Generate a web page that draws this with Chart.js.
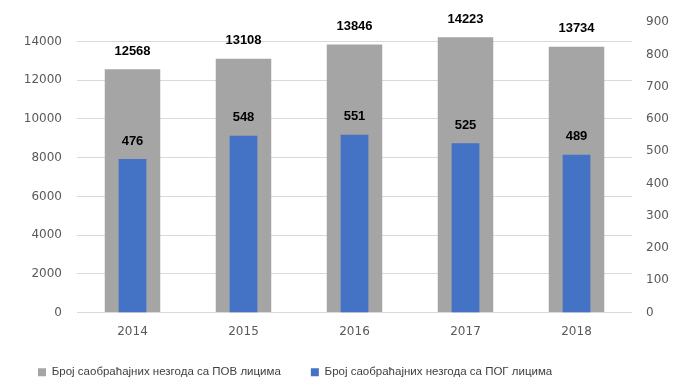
<!DOCTYPE html>
<html>
<head>
<meta charset="utf-8">
<script src="https://cdn.jsdelivr.net/npm/chart.js@4"></script>
<style>
  body { margin: 0; background: #fff; }
  #wrap { width: 690px; height: 391px; }
</style>
</head>
<body>
<div id="wrap"><canvas id="myChart"></canvas></div>
<script>
const years = ['2014', '2015', '2016', '2017', '2018'];
const povData = [12568, 13108, 13846, 14223, 13734];
const pogData = [476, 548, 551, 525, 489];
const povLabel = 'Број саобраћајних незгода са ПОВ лицима';
const pogLabel = 'Број саобраћајних незгода са ПОГ лицима';
const leftTicks = [0, 2000, 4000, 6000, 8000, 10000, 12000, 14000];
const rightTicks = [0, 100, 200, 300, 400, 500, 600, 700, 800, 900];

// labels above each bar
const valueLabels = {
    id: 'valueLabels',
    afterDatasetsDraw(chart) {
        const ctx = chart.ctx;
        ctx.save();
        ctx.font = 'bold 13px "Liberation Sans"';
        ctx.fillStyle = '#000';
        ctx.textAlign = 'center';
        ctx.textBaseline = 'middle';
        chart.data.datasets.forEach(function (ds, i) {
            const meta = chart.getDatasetMeta(i);
            meta.data.forEach(function (bar, j) {
                ctx.fillText(ds.data[j], bar.x, bar.y - 18);
            });
        });
        ctx.restore();
    }
};

const tickFont = { size: 12, family: 'DejaVu Sans' };

const ctx = document.getElementById('myChart');
new Chart(ctx, {
    type: 'bar',
    data: {
        labels: years,
        datasets: [{
            label: povLabel,
            data: povData,
            backgroundColor: '#a5a5a5',
            borderWidth: 0,
            yAxisID: 'y',
            barPercentage: 0.5,
            categoryPercentage: 1,
            grouped: false,
            order: 1
        }, {
            label: pogLabel,
            data: pogData,
            backgroundColor: '#4472c4',
            borderWidth: 0,
            yAxisID: 'y1',
            barPercentage: 0.25,
            categoryPercentage: 1,
            grouped: false,
            order: 0
        }]
    },
    options: {
        responsive: true,
        maintainAspectRatio: false,
        animation: false,
        layout: { padding: { top: 19, left: 8, right: 0, bottom: 3 } },
        plugins: {
            tooltip: { enabled: false },
            legend: {
                position: 'bottom',
                align: 'start',
                reverse: true,
                labels: {
                    boxWidth: 8, boxHeight: 8, padding: 30,
                    color: '#404040',
                    font: { size: 11.5, family: 'Liberation Sans' }
                }
            }
        },
        scales: {
            x: {
                grid: { display: false, drawTicks: false },
                border: { display: false },
                ticks: { padding: 12, color: '#595959', font: tickFont },
                afterFit: function (s) { s.height = 24; }
            },
            y: {
                position: 'left',
                min: 0, max: 15000,
                grid: { color: '#d9d9d9', drawTicks: false },
                border: { display: false },
                ticks: { padding: 15, color: '#595959', font: tickFont, callback: v => String(v) },
                afterBuildTicks: function (s) { s.ticks = leftTicks.map(v => ({ value: v })); },
                afterFit: function (s) { s.width = 69; }
            },
            y1: {
                position: 'right',
                min: 0, max: 900,
                grid: { display: false, drawTicks: false },
                border: { display: false },
                ticks: { padding: 14, color: '#595959', font: tickFont, callback: v => String(v) },
                afterBuildTicks: function (s) { s.ticks = rightTicks.map(v => ({ value: v })); },
                afterFit: function (s) { s.width = 58; }
            }
        }
    },
    plugins: [valueLabels]
});
</script>
</body>
</html>
